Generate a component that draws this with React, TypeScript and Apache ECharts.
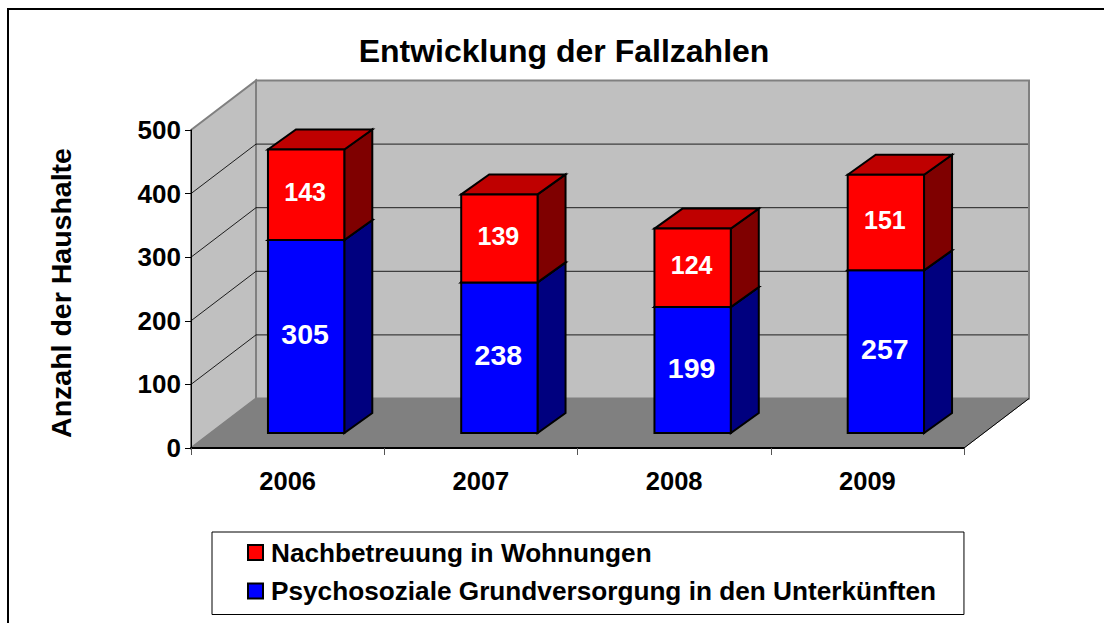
import React, { useEffect, useRef } from "react";
import * as echarts from "echarts";

const categories = ["2006", "2007", "2008", "2009"];
const psychosozial = [305, 238, 199, 257];
const nachbetreuung = [143, 139, 124, 151];
const gridTicks = [100, 200, 300, 400];
const titleText = "Entwicklung der Fallzahlen";
const yName = "Anzahl der Haushalte";
const nameRed = "Nachbetreuung in Wohnungen";
const nameBlue = "Psychosoziale Grundversorgung in den Unterkünften";

const FONT = "'Liberation Sans', Arial, sans-serif";
const DX = 65, DY = -49.5;
const BAR_RATIO = 0.395, SHIFT_X = 18.5, SHIFT_Y = -15, BAR_DX = 28, BAR_DY = -20, BAR_SCALE = 0.995;

function wallsItem(params: any, api: any) {
  const c = params.coordSys;
  const L = c.x, R = c.x + c.width, T = c.y, B = c.y + c.height;
  const gray = "#808080";
  const children: any[] = [
    { type: "polygon", shape: { points: [[L + DX, T + DY], [R + DX, T + DY], [R + DX, B + DY], [L + DX, B + DY]] }, style: { fill: "#C0C0C0", stroke: gray, lineWidth: 2 } },
    { type: "polygon", shape: { points: [[L, T], [L + DX, T + DY], [L + DX, B + DY], [L, B]] }, style: { fill: "#C0C0C0", stroke: gray, lineWidth: 2 } },
    { type: "polygon", shape: { points: [[L, B], [L + DX, B + DY], [R + DX, B + DY], [R, B]] }, style: { fill: gray, stroke: gray, lineWidth: 1 } },
    { type: "line", shape: { x1: R, y1: B, x2: R + DX, y2: B + DY }, style: { stroke: "#000", lineWidth: 1 } },
  ];
  gridTicks.forEach((t) => {
    const y = api.coord([0, t])[1];
    children.push({ type: "polyline", shape: { points: [[L, y], [L + DX, y + DY], [R + DX - 1, y + DY]] }, style: { fill: "none", stroke: "#000", lineWidth: 1, opacity: 0.85 } });
  });
  return { type: "group", children };
}

function barItem(front: string, top: string, side: string, labelSize: number) {
  return (_params: any, api: any) => {
    const i = api.value(0), start = api.value(1), val = api.value(2);
    const band = api.size([1, 0])[0];
    const w = band * BAR_RATIO;
    const base = api.coord([i, 0])[1];
    const sy = (v: number) => base + (api.coord([i, v])[1] - base) * BAR_SCALE + SHIFT_Y;
    const cx = api.coord([i, start])[0] + SHIFT_X;
    const y0 = sy(start);
    const y1 = sy(start + val);
    const l = cx - w / 2, r = cx + w / 2;
    const stroke = { stroke: "#000", lineWidth: 2, lineJoin: "miter" };
    return {
      type: "group",
      children: [
        { type: "polygon", shape: { points: [[r, y1], [r + BAR_DX, y1 + BAR_DY], [r + BAR_DX, y0 + BAR_DY], [r, y0]] }, style: { fill: side, ...stroke } },
        { type: "polygon", shape: { points: [[l, y1], [l + BAR_DX, y1 + BAR_DY], [r + BAR_DX, y1 + BAR_DY], [r, y1]] }, style: { fill: top, ...stroke } },
        { type: "polygon", shape: { points: [[l, y1], [r, y1], [r, y0], [l, y0]] }, style: { fill: front, ...stroke } },
        { type: "text", x: cx - 1, y: (y0 + y1) / 2 - 2.5, style: { text: String(val), fill: "#fff", font: `bold ${labelSize}px ${FONT}`, textAlign: "center", textVerticalAlign: "middle" } },
      ],
    };
  };
}

export default function App() {
  const ref = useRef<HTMLDivElement>(null);
  useEffect(() => {
    document.body.style.margin = "0";
    const chart = echarts.init(ref.current!, undefined, { renderer: "svg" });
    chart.setOption({
      animation: false,
      backgroundColor: "#fff",
      title: {
        text: titleText, left: 559, top: 30, textAlign: "center",
        textStyle: { fontFamily: FONT, fontWeight: "bold", fontSize: 32, color: "#000" },
      },
      grid: { left: 191, right: 140, top: 130, bottom: 175 },
      legend: {
        left: 212, top: 532, height: 200, orient: "vertical", icon: "rect",
        data: [nameRed, nameBlue],
        itemWidth: 15, itemHeight: 15, itemGap: 12.5, selectedMode: false,
        padding: [7.5, 28, 10.5, 35], borderColor: "#000", borderWidth: 1, backgroundColor: "#fff",
        itemStyle: { borderColor: "#000", borderWidth: 2 },
        textStyle: { fontFamily: FONT, fontWeight: "bold", fontSize: 26.2, color: "#000", padding: [0, 0, 0, 3] },
      },
      xAxis: {
        type: "category", data: categories, z: 5,
        axisLine: { lineStyle: { color: "#000", width: 2 } },
        axisTick: { show: true, length: 7, lineStyle: { color: "#555", width: 1 } },
        axisLabel: { fontFamily: FONT, fontWeight: "bold", fontSize: 25.5, color: "#000", margin: 20 },
      },
      yAxis: {
        type: "value", min: 0, max: 500, interval: 100, z: 5,
        name: yName, nameLocation: "middle", nameGap: 116, nameRotate: 90,
        nameTextStyle: { fontFamily: FONT, fontWeight: "bold", fontSize: 28.5, color: "#000", padding: [0, 8, 0, 0] },
        axisLine: { show: true, lineStyle: { color: "#000", width: 1 } },
        axisTick: { show: true, length: 6, lineStyle: { color: "#000", width: 1 } },
        axisLabel: { fontFamily: FONT, fontWeight: "bold", fontSize: 26, color: "#000", margin: 10 },
        splitLine: { show: false },
      },
      series: [
        { type: "custom", name: "walls", z: 1, silent: true, data: [[0, 0]], encode: { x: 0, y: 1 }, renderItem: wallsItem },
        {
          type: "custom", name: nameBlue, z: 2, silent: true, itemStyle: { color: "#0000FF" },
          data: categories.map((_, i) => [i, 0, psychosozial[i]]), encode: { x: 0, y: [1, 2] },
          renderItem: barItem("#0000FF", "#0000BF", "#00007F", 28.5),
        },
        {
          type: "custom", name: nameRed, z: 3, silent: true, itemStyle: { color: "#FF0000" },
          data: categories.map((_, i) => [i, psychosozial[i], nachbetreuung[i]]), encode: { x: 0, y: [1, 2] },
          renderItem: barItem("#FF0000", "#BF0000", "#7F0000", 25),
        },
      ],
      graphic: [
        { type: "line", z: 10, shape: { x1: 8, y1: 9, x2: 1104, y2: 9 }, style: { stroke: "#000", lineWidth: 2 } },
        { type: "line", z: 10, shape: { x1: 8, y1: 8, x2: 8, y2: 623 }, style: { stroke: "#000", lineWidth: 2 } },
      ],
    });
    return () => chart.dispose();
  }, []);
  return <div ref={ref} style={{ width: 1104, height: 623 }} />;
}
